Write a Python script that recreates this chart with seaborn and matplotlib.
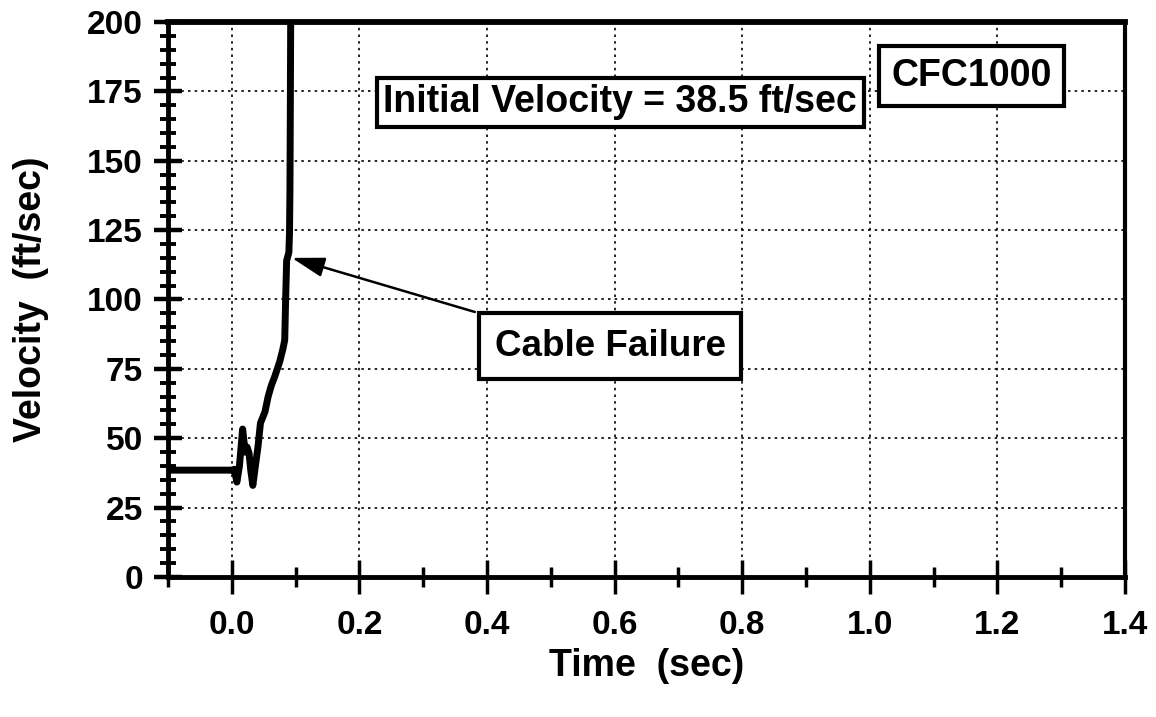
import matplotlib
matplotlib.use("Agg")
import matplotlib.pyplot as plt
from matplotlib.ticker import MultipleLocator, FixedLocator
import seaborn as sns
import pandas as pd

# Velocity trace of the test article (time in sec, velocity in ft/sec)
time_s = [-0.1, 0.0, 0.004, 0.008, 0.012, 0.017, 0.021, 0.024, 0.027, 0.030,
          0.033, 0.037, 0.041, 0.045, 0.052, 0.057, 0.062, 0.067, 0.075, 0.080,
          0.083, 0.0838, 0.0845, 0.086, 0.0895, 0.0905, 0.0912, 0.0918, 0.0925]
velocity = [38.5, 38.5, 38.8, 34.2, 40.0, 53.3, 45.0, 46.8, 44.7, 38.0,
            33.0, 40.0, 46.8, 55.5, 59.5, 65.0, 69.0, 72.0, 77.5, 82.0,
            85.4, 93.7, 101.0, 114.0, 117.0, 124.0, 140.0, 170.0, 210.0]

x_major = [0.0, 0.2, 0.4, 0.6, 0.8, 1.0, 1.2, 1.4]
x_labels = ["0.0", "0.2", "0.4", "0.6", "0.8", "1.0", "1.2", "1.4"]
y_major = [0, 25, 50, 75, 100, 125, 150, 175, 200]

failure_point = (0.094, 115.0)
failure_label = (0.381, 95.5)
initial_velocity = 38.5

df = pd.DataFrame({"Time": time_s, "Velocity": velocity})

sns.set_theme(style="white")
plt.rcParams["font.family"] = ["Liberation Sans", "DejaVu Sans"]
plt.rcParams["font.weight"] = "bold"
plt.rcParams["text.color"] = "black"
plt.rcParams["axes.labelcolor"] = "black"
plt.rcParams["xtick.color"] = "black"
plt.rcParams["ytick.color"] = "black"

fig = plt.figure(figsize=(11.56, 7.17), dpi=100)
ax = fig.add_axes([0.1453, 0.1953, 0.8279, 0.7740])

sns.lineplot(data=df, x="Time", y="Velocity", ax=ax, color="black",
             linewidth=5, estimator=None, sort=False)

ax.set_xlim(-0.1, 1.4)
ax.set_ylim(0, 200)

ax.xaxis.set_major_locator(FixedLocator(x_major))
ax.set_xticklabels(x_labels)
ax.xaxis.set_minor_locator(MultipleLocator(0.1))
ax.yaxis.set_major_locator(FixedLocator(y_major))
ax.yaxis.set_minor_locator(MultipleLocator(5))

ax.tick_params(axis="x", which="major", direction="inout", length=24, width=2.5,
               pad=12, labelsize=24, labelcolor="black")
ax.tick_params(axis="x", which="minor", direction="inout", length=15, width=2.5)
ax.tick_params(axis="y", which="major", direction="inout", length=20, width=3.2,
               pad=8, labelsize=24, labelcolor="black")
ax.tick_params(axis="y", which="minor", direction="inout", length=12, width=2.8)
ax.tick_params(bottom=True, left=True, which="both", color="black")
for lab in ax.get_xticklabels() + ax.get_yticklabels():
    lab.set_fontweight("bold")

for side, lw in (("left", 3.5), ("bottom", 3.5), ("top", 4.2), ("right", 3.0)):
    ax.spines[side].set_visible(True)
    ax.spines[side].set_linewidth(lw)
    ax.spines[side].set_color("black")

ax.grid(True, which="major", color="black", linewidth=1.2,
        linestyle=(0, (1.5, 2.5)))
ax.set_axisbelow(True)

ax.set_xlabel("Time  (sec)", fontsize=27, fontweight="bold", color="black")
ax.set_ylabel("Velocity  (ft/sec)", fontsize=27, fontweight="bold", color="black")
ax.xaxis.label.set_va("center")
ax.yaxis.label.set_va("center")
ax.xaxis.set_label_coords(0.5, -0.160)
ax.yaxis.set_label_coords(-0.143, 0.5)

box = dict(boxstyle="square,pad=0.3", fc="white", ec="black", lw=3)
ax.text(0.609, 171.0, f"Initial Velocity = {initial_velocity} ft/sec",
        ha="center", va="center", fontsize=27, fontweight="bold",
        bbox=dict(box, boxstyle="square,pad=0.18"))
ax.text(1.160, 180.5, "CFC1000", ha="center", va="center", fontsize=27,
        fontweight="bold", bbox=dict(box, boxstyle="square,pad=0.33"))
ax.text(0.593, 83.2, "Cable Failure", ha="center", va="center", fontsize=26.5,
        fontweight="bold", bbox=dict(box, boxstyle="square,pad=0.42"), zorder=5)

ax.annotate("", xy=failure_point, xytext=failure_label,
            arrowprops=dict(arrowstyle="-|>,head_length=1.0,head_width=0.3",
                            mutation_scale=20, lw=1.8, color="black",
                            shrinkA=0, shrinkB=0), zorder=4)

fig.savefig("out.png", dpi=100, facecolor="white")
